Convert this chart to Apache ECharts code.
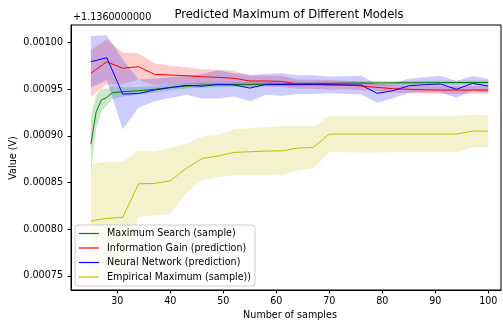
<!DOCTYPE html>
<html>
<head>
<meta charset="utf-8">
<script src="https://cdn.jsdelivr.net/npm/echarts@6/dist/echarts.min.js"></script>
<style>
html,body{margin:0;padding:0;background:#fff;}
#c{width:503px;height:322px;}
</style>
</head>
<body>
<div id="c"></div>
<script>
// ---- data (values are offsets from 1.136) ----
const xTicks = [30, 40, 50, 60, 70, 80, 90, 100];
const yTicks = [0.00075, 0.00080, 0.00085, 0.00090, 0.00095, 0.00100];
const yOffsetText = '+1.1360000000';

const sampleX = [25,28,31,34,37,40,43,46,49,52,55,58,61,64,67,70,73,76,79,82,85,88,91,94,97,100];
const msX = [25,26,27,28,29,31,34,37,40,43,46,49,52,55,58,61,64,67,70,73,76,79,82,85,88,91,94,97,100];

const msMean = [0.000891,0.0009257,0.0009382,0.000941,0.000946,0.0009471,0.0009482,0.0009497,0.0009518,0.000953,0.0009543,0.0009546,0.0009548,0.000955,0.0009552,0.0009555,0.0009557,0.0009559,0.000956,0.0009562,0.0009564,0.0009565,0.0009566,0.0009567,0.0009568,0.0009569,0.0009569,0.000957,0.000957];
const msStd = [0.00003,0.000018,0.000012,0.000009,0.000007,0.000005,0.000004,0.0000035,0.000003,0.0000028,0.0000026,0.0000025,0.0000024,0.0000023,0.0000022,0.0000022,0.0000021,0.0000021,0.000002,0.000002,0.000002,0.000002,0.000002,0.000002,0.000002,0.000002,0.000002,0.000002,0.000002];

const igMean = [0.0009668,0.0009792,0.0009722,0.0009739,0.0009657,0.000965,0.0009642,0.0009632,0.0009625,0.0009615,0.0009586,0.0009586,0.0009582,0.0009553,0.000955,0.0009546,0.0009543,0.0009532,0.0009518,0.0009503,0.0009497,0.0009492,0.0009489,0.0009489,0.0009489,0.0009489];
const igStd = [0.000025,0.000024,0.000017,0.000014,0.000012,0.00001,0.000009,0.000008,0.000008,0.000008,0.000006,0.000006,0.000006,0.000005,0.000005,0.000005,0.0000045,0.0000045,0.000004,0.000004,0.000004,0.000004,0.000004,0.000004,0.000004,0.000004];

const nnMean = [0.0009792,0.0009835,0.0009446,0.0009452,0.000949,0.0009515,0.000954,0.000953,0.000955,0.0009545,0.000951,0.000955,0.0009548,0.0009548,0.0009548,0.0009545,0.0009543,0.0009543,0.0009454,0.0009482,0.0009535,0.0009546,0.0009553,0.0009497,0.000956,0.0009532];
const nnStd = [0.0000275,0.000024,0.0000375,0.000015,0.000012,0.000011,0.00001,0.000013,0.000015,0.0000125,0.000014,0.000011,0.000012,0.00001,0.00001,0.000009,0.0000095,0.00001,0.00001,0.000008,0.0000075,0.000008,0.000009,0.000009,0.000008,0.0000075];

const emMean = [0.000809,0.0008116,0.0008126,0.0008486,0.000849,0.0008518,0.0008651,0.0008758,0.0008783,0.0008822,0.0008829,0.0008836,0.0008839,0.0008868,0.0008876,0.0009018,0.0009018,0.0009018,0.0009018,0.0009018,0.0009018,0.0009018,0.0009018,0.0009018,0.000905,0.000905];
const emStd = [0.0000607,0.0000606,0.0000596,0.0000354,0.0000343,0.0000354,0.0000264,0.0000234,0.0000227,0.0000244,0.0000254,0.0000256,0.0000262,0.0000239,0.0000224,0.0000194,0.0000195,0.0000196,0.0000196,0.0000195,0.0000195,0.0000195,0.0000195,0.0000195,0.0000175,0.000017];

const names = ['Maximum Search (sample)','Information Gain (prediction)','Neural Network (prediction)','Empirical Maximum (sample))'];
const colors = ['#008000','#ff0000','#0000ff','#bfbf00'];
const bandColors = ['rgba(0,128,0,0.2)','rgba(255,0,0,0.2)','rgba(0,0,255,0.2)','rgba(191,191,0,0.2)'];

const FONT = 'DejaVu Sans';

function band(id, xs, mean, std, fill) {
  return {
    type: 'custom', name: id, silent: true, z: 1, clip: true,
    data: [[xs[0], mean[0]]],
    renderItem: function (params, api) {
      const pts = [];
      for (let i = 0; i < xs.length; i++) pts.push(api.coord([xs[i], mean[i] + std[i]]));
      for (let i = xs.length - 1; i >= 0; i--) pts.push(api.coord([xs[i], mean[i] - std[i]]));
      return { type: 'polygon', shape: { points: pts }, style: { fill: fill, stroke: null } };
    }
  };
}
function line(name, xs, ys, color) {
  return {
    type: 'line', name: name, z: 3, symbol: 'none', showSymbol: false,
    data: xs.map((x, i) => [x, ys[i]]),
    lineStyle: { color: color, width: 1 }, itemStyle: { color: color }
  };
}

const chart = echarts.init(document.getElementById('c'), null, { renderer: 'canvas' });
chart.setOption({
  animation: false,
  backgroundColor: '#fff',
  grid: { left: 71, right: 2, top: 25, bottom: 32, show: true, borderColor: '#000', borderWidth: 1 },
  xAxis: {
    type: 'value', min: 21.25, max: 102.4,
    axisLine: { show: true, onZero: false, lineStyle: { color: '#000', width: 1 } },
    axisTick: { show: true, inside: false, length: 3.5, lineStyle: { color: '#000' }, customValues: xTicks },
    axisLabel: { customValues: xTicks, color: '#000', fontFamily: FONT, fontSize: 9.6, margin: 6.5 },
    splitLine: { show: false }
  },
  yAxis: {
    type: 'value', min: 0.000735, max: 0.0010185,
    axisLine: { show: true, onZero: false, lineStyle: { color: '#000', width: 1 } },
    axisTick: { show: true, inside: false, length: 3.5, lineStyle: { color: '#000' }, customValues: yTicks },
    axisLabel: { customValues: yTicks, color: '#000', fontFamily: FONT, fontSize: 9.6, margin: 8,
      formatter: v => v.toFixed(5) },
    splitLine: { show: false }
  },
  legend: {
    data: names, orient: 'vertical', left: 75, top: 225,
    icon: 'rect', itemWidth: 20, itemHeight: 1.2, itemGap: 2.5,
    padding: [2.5, 4, 3, 4],
    backgroundColor: 'rgba(255,255,255,0.8)', borderColor: '#cccccc', borderWidth: 1, borderRadius: 3,
    textStyle: { fontFamily: FONT, fontSize: 9.6, color: '#000', lineHeight: 12, padding: [0, 0, 0, 3] },
    selectedMode: false
  },
  graphic: [
    { type: 'text', left: 73, top: 12, style: { text: yOffsetText, font: '9.6px "DejaVu Sans"', fill: '#000' } },
    { type: 'text', x: 289, y: 15, style: { text: 'Predicted Maximum of Different Models', font: '11.6px "DejaVu Sans"', fill: '#000', textAlign: 'center', textVerticalAlign: 'middle' } },
    { type: 'text', x: 290, y: 315, style: { text: 'Number of samples', font: '9.6px "DejaVu Sans"', fill: '#000', textAlign: 'center', textVerticalAlign: 'middle' } },
    { type: 'text', x: 13, y: 158, rotation: Math.PI / 2, style: { text: 'Value (V)', font: '9.6px "DejaVu Sans"', fill: '#000', textAlign: 'center', textVerticalAlign: 'middle' } }
  ],
  series: [
    band('band0', msX, msMean, msStd, bandColors[0]),
    band('band1', sampleX, igMean, igStd, bandColors[1]),
    band('band2', sampleX, nnMean, nnStd, bandColors[2]),
    band('band3', sampleX, emMean, emStd, bandColors[3]),
    line(names[0], msX, msMean, colors[0]),
    line(names[1], sampleX, igMean, colors[1]),
    line(names[2], sampleX, nnMean, colors[2]),
    line(names[3], sampleX, emMean, colors[3])
  ]
});
</script>
</body>
</html>
